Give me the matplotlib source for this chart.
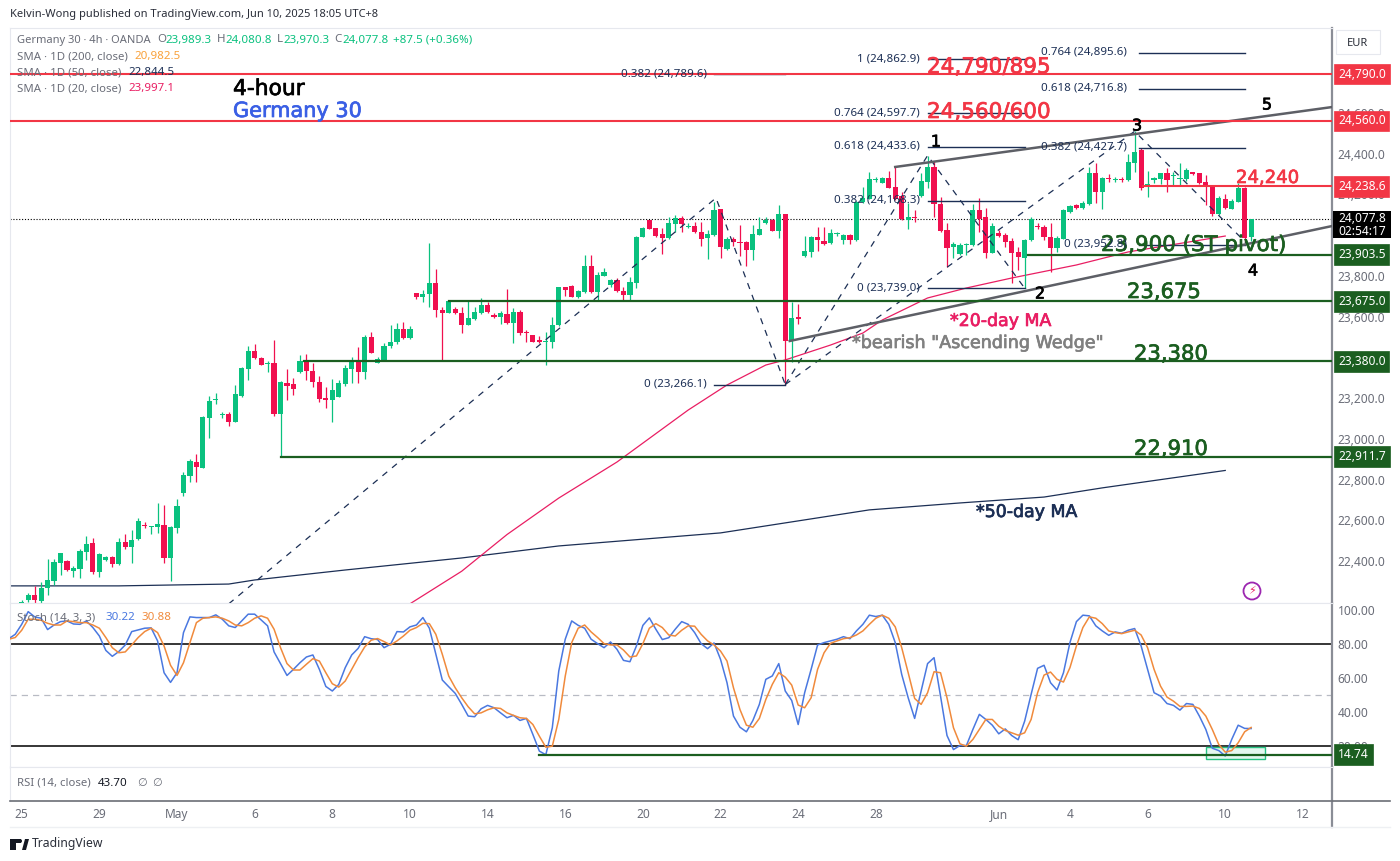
import matplotlib

matplotlib.use("Agg")
import matplotlib.patheffects as pe
import matplotlib.pyplot as plt
import numpy as np
from matplotlib.patches import Circle, Polygon, Rectangle
from matplotlib.transforms import IdentityTransform, blended_transform_factory

WIDTH = 1400
HEIGHT = 861

UP = "#0ac17f"
DOWN = "#f0104f"
RED_LINE = "#f23645"
DARK_GREEN = "#1b5e20"
NAVY = "#1c2f55"
PINK = "#e91e63"
GREY = "#6a6d78"
BLUE = "#4a78e0"
ORANGE = "#f08a3c"

open_prices = [
    22184, 22209, 22233, 22205, 22266, 22304, 22392, 22400, 22351, 22359,
    22446, 22487, 22348, 22405, 22420, 22385, 22495, 22471, 22506, 22577,
    22569, 22569, 22577, 22416, 22564, 22732, 22819, 22887, 22855, 23100,
    23189, 23115, 23120, 23084, 23212, 23342, 23429, 23396, 23368, 23370,
    23121, 23272, 23267, 23326, 23382, 23332, 23280, 23202, 23190, 23207,
    23267, 23341, 23378, 23326, 23499, 23373, 23386, 23455, 23475, 23537,
    23493, 23717, 23697, 23710, 23763, 23632, 23619, 23635, 23619, 23558,
    23588, 23615, 23655, 23609, 23597, 23612, 23566, 23624, 23524, 23507,
    23483, 23473, 23476, 23556, 23745, 23751, 23694, 23718, 23849, 23718,
    23800, 23753, 23779, 23727, 23705, 23766, 23992, 24072, 24032, 24003,
    23983, 24054, 24082, 24039, 24044, 24014, 23987, 24000, 24126, 23931,
    23982, 23967, 23965, 23926, 24001, 24060, 24073, 24021, 24101, 23485,
    23596, 23897, 23918, 23992, 23972, 23959, 24005, 23975, 24000, 23975,
    24160, 24176, 24271, 24257, 24281, 24234, 24191, 24073, 24086, 24191,
    24261, 24335, 24152, 24024, 23939, 23907, 23951, 23951, 24122, 24086,
    23913, 24011, 23998, 23972, 23915, 23885, 23975, 24044, 24041, 23992,
    23934, 23980, 24114, 24147, 24131, 24152, 24306, 24212, 24278, 24268,
    24276, 24270, 24355, 24417, 24237, 24270, 24273, 24306, 24289, 24273,
    24273, 24310, 24302, 24261, 24240, 24101, 24176, 24130, 24163, 24232, 23989.3,
]
high_prices = [
    22209, 22245, 22277, 22299, 22408, 22408, 22438, 22405, 22376, 22457,
    22523, 22515, 22438, 22425, 22425, 22511, 22533, 22552, 22609, 22593,
    22572, 22683, 22675, 22572, 22703, 22835, 22899, 22925, 23112, 23210,
    23223, 23133, 23133, 23262, 23351, 23455, 23465, 23400, 23381, 23485,
    23282, 23344, 23296, 23411, 23416, 23373, 23308, 23252, 23292, 23288,
    23362, 23400, 23452, 23509, 23524, 23400, 23471, 23557, 23570, 23575,
    23553, 23717, 23730, 23959, 23831, 23648, 23681, 23648, 23648, 23678,
    23648, 23692, 23673, 23615, 23628, 23733, 23640, 23632, 23534, 23507,
    23504, 23524, 23599, 23746, 23746, 23754, 23730, 23900, 23902, 23820,
    23836, 23782, 23787, 23746, 23792, 23995, 24041, 24073, 24036, 24032,
    24086, 24098, 24093, 24057, 24065, 24065, 24024, 24163, 24129, 23988,
    23992, 24049, 23969, 24047, 24090, 24086, 24077, 24147, 24103, 23671,
    23661, 23995, 23995, 24037, 24037, 24028, 24016, 24003, 24003, 24167,
    24234, 24307, 24286, 24286, 24315, 24332, 24212, 24158, 24122, 24306,
    24390, 24365, 24188, 24057, 23967, 23962, 23959, 24152, 24180, 24131,
    24057, 24024, 24008, 23987, 23942, 23979, 24086, 24057, 24049, 24057,
    23995, 24126, 24147, 24150, 24165, 24335, 24351, 24286, 24299, 24286,
    24286, 24400, 24509, 24425, 24315, 24286, 24306, 24327, 24310, 24351,
    24327, 24310, 24306, 24294, 24245, 24191, 24201, 24175, 24253, 24237, 24080.8,
]
low_prices = [
    22170, 22201, 22184, 22184, 22233, 22282, 22331, 22351, 22323, 22315,
    22405, 22336, 22320, 22402, 22372, 22380, 22457, 22392, 22503, 22560,
    22531, 22536, 22389, 22304, 22536, 22719, 22789, 22786, 22855, 23002,
    23171, 23103, 23064, 23084, 23207, 23288, 23391, 23360, 23329, 23113,
    22912, 23190, 23215, 23321, 23288, 23256, 23182, 23149, 23084, 23203,
    23259, 23272, 23275, 23292, 23419, 23370, 23386, 23444, 23465, 23488,
    23488, 23686, 23673, 23648, 23599, 23386, 23615, 23612, 23520, 23558,
    23583, 23612, 23619, 23591, 23563, 23563, 23468, 23509, 23476, 23475,
    23468, 23362, 23444, 23553, 23702, 23694, 23691, 23715, 23715, 23681,
    23799, 23746, 23718, 23681, 23681, 23738, 23988, 24028, 23992, 23907,
    23979, 24016, 24016, 24032, 24008, 23946, 23880, 23996, 23889, 23926,
    23946, 23897, 23848, 23877, 23998, 24054, 24018, 23983, 23266.1, 23375,
    23563, 23893, 23893, 23923, 23951, 23956, 23995, 23956, 23956, 23972,
    24158, 24175, 24261, 24253, 24229, 24171, 24073, 24028, 24065, 24188,
    24229, 24090, 24016, 23841, 23885, 23902, 23902, 23947, 24016, 23885,
    23910, 23992, 23939, 23763, 23828, 23738, 23972, 24028, 23975, 23820,
    23918, 23979, 24106, 24130, 24128, 24149, 24155, 24126, 24261, 24261,
    24258, 24266, 24310, 24220, 24185, 24253, 24250, 24212, 24245, 24245,
    24266, 24294, 24250, 24147, 24093, 24098, 24130, 24127, 24160, 23967, 23970.3,
]
close_prices = [
    22201, 22233, 22209, 22266, 22307, 22394, 22438, 22356, 22364, 22448,
    22484, 22345, 22434, 22420, 22384, 22495, 22467, 22503, 22596, 22572,
    22572, 22580, 22416, 22569, 22670, 22822, 22891, 22863, 23105, 23187,
    23194, 23120, 23084, 23220, 23347, 23432, 23396, 23364, 23373, 23121,
    23278, 23261, 23244, 23382, 23332, 23280, 23195, 23190, 23238, 23272,
    23349, 23378, 23326, 23501, 23423, 23393, 23457, 23475, 23537, 23493,
    23537, 23697, 23710, 23763, 23632, 23615, 23677, 23615, 23558, 23594,
    23622, 23655, 23624, 23596, 23615, 23566, 23620, 23517, 23517, 23476,
    23473, 23478, 23560, 23745, 23728, 23697, 23723, 23849, 23718, 23803,
    23820, 23779, 23723, 23705, 23769, 23992, 24034, 24031, 23995, 23983,
    24057, 24082, 24054, 24044, 24013, 23980, 24003, 24122, 23943, 23982,
    23967, 23962, 23926, 24005, 24029, 24075, 24021, 24101, 23481, 23592,
    23589, 23920, 23992, 23975, 23954, 24010, 24010, 24000, 23975, 24163,
    24180, 24275, 24276, 24281, 24232, 24175, 24077, 24086, 24082, 24266,
    24332, 24152, 24021, 23938, 23954, 23951, 23956, 24122, 24080, 23913,
    24046, 23995, 23967, 23913, 23890, 23974, 24080, 24039, 23988, 23938,
    23983, 24122, 24142, 24132, 24155, 24306, 24212, 24278, 24273, 24273,
    24270, 24360, 24409, 24229, 24250, 24278, 24302, 24270, 24294, 24278,
    24319, 24301, 24253, 24240, 24101, 24180, 24135, 24166, 24229, 23983, 24077.8,
]

# stochastic, first two values sit left of bar 0
stoch_k = [
    83.3, 85.9,
    91.8, 99.3, 96.2, 95.4, 88.7, 91.4, 93.4, 93.8, 92.0, 91.8,
    93.8, 89.9, 84.9, 76.4, 72.9, 75.7, 79.6, 87.5, 88.5, 89.5,
    89.7, 82.0, 63.2, 57.5, 63.2, 86.9, 96.2, 95.8, 95.8, 95.8,
    97.4, 94.8, 90.9, 89.9, 93.8, 97.8, 97.8, 94.4, 90.9, 75.5,
    68.6, 61.6, 65.2, 69.1, 72.5, 73.7, 65.2, 55.1, 52.4, 56.3,
    66.2, 73.7, 77.6, 84.5, 83.3, 82.8, 78.0, 80.0, 87.5, 87.3,
    90.3, 91.4, 95.8, 89.5, 74.1, 58.9, 54.9, 51.0, 44.5, 37.6,
    37.2, 41.9, 43.9, 42.5, 39.5, 36.6, 38.0, 35.0, 36.2, 26.7,
    16.9, 14.74, 30.7, 64.2, 83.0, 93.8, 91.2, 89.5, 83.0, 80.4,
    78.0, 81.4, 77.0, 70.5, 69.7, 79.0, 91.2, 95.6, 88.9, 82.8,
    83.9, 88.9, 93.4, 91.8, 86.9, 80.4, 77.4, 80.8, 71.1, 57.3,
    37.6, 31.0, 28.3, 35.0, 44.5, 59.3, 61.3, 68.6, 52.4, 46.8,
    32.6, 51.4, 65.2, 79.6, 81.0, 82.0, 83.0, 84.5, 83.3, 87.9,
    91.8, 97.2, 96.4, 97.2, 91.8, 81.0, 62.2, 48.4, 36.2, 52.4,
    68.6, 72.1, 49.4, 26.1, 17.8, 20.2, 20.2, 29.7, 38.6, 35.6,
    32.2, 27.1, 30.0, 26.1, 23.6, 34.6, 50.4, 65.8, 67.6, 57.3,
    53.0, 63.2, 81.0, 93.4, 97.2, 96.8, 90.9, 87.9, 85.3, 87.3,
    86.5, 88.3, 89.3, 79.0, 65.2, 51.4, 49.4, 45.0, 43.9, 41.1,
    45.0, 44.5, 37.6, 29.7, 18.6, 17.2, 14.0, 23.8, 32.2, 30.3, 30.22,
]
stoch_d = [
    83.0, 84.0,
    88.3, 94.8, 94.8, 94.2, 92.4, 91.4, 91.4, 93.8, 93.4, 92.8,
    92.8, 91.4, 89.5, 84.0, 78.0, 75.0, 75.5, 79.6, 84.0, 87.5,
    89.5, 86.9, 79.0, 67.6, 61.6, 69.1, 81.0, 92.8, 95.4, 95.8,
    96.2, 95.4, 93.8, 91.4, 90.9, 92.8, 95.4, 96.8, 95.4, 88.9,
    78.0, 68.6, 64.8, 64.8, 68.2, 71.5, 70.1, 63.2, 56.7, 54.7,
    58.3, 65.2, 72.1, 78.4, 82.4, 83.4, 81.6, 79.6, 82.0, 84.9,
    88.3, 89.9, 92.4, 92.2, 85.9, 74.1, 61.2, 54.3, 48.4, 43.1,
    38.9, 39.5, 41.3, 42.5, 42.1, 39.5, 38.0, 36.6, 36.2, 32.6,
    25.7, 19.2, 19.8, 35.6, 61.2, 81.0, 89.5, 91.4, 87.3, 84.0,
    80.4, 79.6, 79.6, 76.6, 72.5, 73.1, 80.4, 89.5, 92.2, 89.9,
    85.5, 84.9, 88.3, 90.9, 90.7, 85.9, 82.0, 79.6, 76.0, 70.1,
    54.3, 41.5, 32.2, 31.0, 36.2, 47.4, 56.3, 63.2, 60.6, 55.9,
    44.1, 42.5, 48.4, 65.2, 75.0, 80.6, 82.0, 83.3, 83.9, 85.5,
    87.9, 91.8, 95.4, 97.2, 95.4, 90.3, 78.0, 63.2, 48.0, 44.5,
    51.4, 63.8, 63.2, 48.4, 30.7, 21.2, 19.8, 23.8, 29.7, 35.6,
    35.6, 31.6, 29.1, 27.7, 26.3, 27.7, 35.6, 51.4, 61.8, 63.6,
    59.3, 57.7, 66.2, 79.0, 89.9, 96.2, 95.4, 92.2, 87.9, 86.9,
    86.3, 87.3, 88.3, 85.5, 78.0, 65.2, 55.3, 48.8, 46.4, 43.3,
    43.3, 43.5, 42.1, 37.6, 29.7, 20.8, 16.3, 17.2, 21.8, 28.3, 30.88,
]

# moving averages, read at their bends
ma20_bars = [60, 68, 75, 83, 92, 103, 109, 115, 118, 125, 130, 133, 140, 146, 153, 163, 171, 186]
ma20_values = [22190, 22350, 22530, 22709, 22886, 23141, 23264, 23362, 23387, 23460, 23519, 23583,
               23691, 23740, 23789, 23853, 23917, 23995]
ma50_bars = [-2, 15, 32, 36, 50, 68, 83, 108, 131, 145, 158, 167, 186]
ma50_values = [22278, 22278, 22287, 22307, 22356, 22415, 22474, 22538, 22651, 22685, 22714, 22759, 22844.5]

# dashed swings
swing1_bars = [32, 107.3, 118]
swing1_prices = [22190, 24182, 23266.1]
swing2_bars = [118, 140, 155]
swing2_prices = [23266.1, 24390, 23739.0]
swing3_bars = [118, 172, 189.5]
swing3_prices = [23266.1, 24509, 23952.8]

# fib levels
fib_a_bars = [107, 118]
fib_a_levels = [24789.6, 23266.1]
fib_a_labels = ["0.382 (24,789.6)", "0 (23,266.1)"]
fib_b_bars = [140, 155]
fib_b_levels = [24862.9, 24597.7, 24433.6, 24168.3, 23739.0]
fib_b_labels = ["1 (24,862.9)", "0.764 (24,597.7)", "0.618 (24,433.6)", "0.382 (24,168.3)", "0 (23,739.0)"]
fib_c_bars = [172.7, 189]
fib_c_levels = [24895.6, 24716.8, 24427.7, 23952.8]
fib_c_labels = ["0.764 (24,895.6)", "0.618 (24,716.8)", "0.382 (24,427.7)", "0 (23,952.8)"]

# wedge
wedge_top_bars = [135, 202.5]
wedge_top_prices = [24334, 24628]
wedge_low_bars = [118.7, 202.5]
wedge_low_prices = [23480, 24044]

# horizontal levels: price, first bar
red_levels = [24790.0, 24560.0, 24238.6]
red_starts = [-2, -2, 173.3]
green_levels = [23903.5, 23675.0, 23380.0, 22911.7]
green_starts = [155.5, 66, 43.6, 40]
last_price = 24077.8

price_ticks = [22400, 22600, 22800, 23000, 23200, 23400, 23600, 23800, 24200, 24400, 24600]
stoch_ticks = [20, 40, 60, 80, 100]
stoch_low = 14.74
date_ticks = [0, 12, 24, 36, 48, 60, 72, 84, 96, 108, 120, 132, 151, 162, 174, 186, 198]
date_labels = ["25", "29", "May", "6", "8", "10", "14", "16", "20", "22", "24", "28", "Jun", "4", "6", "10", "12"]


def axes_box(fig, left, top, right, bottom):
    return fig.add_axes([left / WIDTH, 1 - bottom / HEIGHT, (right - left) / WIDTH, (bottom - top) / HEIGHT])


def label(fig, x, y, text, **kwargs):
    kwargs.setdefault("va", "center")
    kwargs.setdefault("ha", "left")
    return fig.text(x / WIDTH, 1 - y / HEIGHT, text, **kwargs)


def heavy_label(fig, x, y, text, **kwargs):
    # the drawn notes in the reference are a touch heavier than DejaVu regular
    t = label(fig, x, y, text, family="DejaVu Sans", **kwargs)
    t.set_path_effects([pe.withStroke(linewidth=0.5, foreground=kwargs["color"])])


def price_tag(ax, value, text, color):
    trans = blended_transform_factory(ax.transAxes, ax.transData)
    x = 1 + 6 / ax.get_window_extent().width
    ax.text(x, value, text, transform=trans, color="white", fontsize=8.6, va="center", ha="left",
            fontweight="medium", clip_on=False, zorder=10,
            bbox=dict(boxstyle="square,pad=0.32", fc=color, ec=color, lw=0.5))


def style_panel(ax):
    for side in ["top", "left", "bottom"]:
        ax.spines[side].set_color("#e6e8ee")
    ax.spines["right"].set_color("#8a8d96")
    ax.spines["right"].set_linewidth(1.6)
    ax.set_xlim(-1.81, 202.5)
    ax.set_xticks([])
    ax.yaxis.tick_right()
    ax.tick_params(axis="y", length=0, labelsize=8.6, labelcolor=GREY, pad=4)


def draw_candles(ax):
    bars = np.arange(len(close_prices))
    opens = np.array(open_prices)
    closes = np.array(close_prices)
    colors = [UP if c >= o else DOWN for o, c in zip(opens, closes)]
    ax.vlines(bars, low_prices, high_prices, colors=colors, lw=0.9, zorder=2)
    heights = np.maximum(np.abs(closes - opens), 5)
    ax.bar(bars, heights, bottom=np.minimum(opens, closes), width=0.8, color=colors, lw=0, zorder=3)


def draw_main(fig):
    ax = axes_box(fig, 10, 28, 1332, 603)
    style_panel(ax)
    ax.set_ylim(22194, 25016)
    ax.set_yticks(price_ticks)
    ax.set_yticklabels([f"{t:,.1f}" for t in price_ticks])

    ax.plot(ma50_bars, ma50_values, color=NAVY, lw=0.9, zorder=1.5)
    ax.plot(ma20_bars, ma20_values, color=PINK, lw=0.9, zorder=1.5)
    draw_candles(ax)
    ax.axhline(last_price, color="black", lw=0.8, ls=(0, (1, 1.6)), zorder=1)

    for bars, prices in [(swing1_bars, swing1_prices), (swing2_bars, swing2_prices), (swing3_bars, swing3_prices)]:
        ax.plot(bars, prices, color=NAVY, lw=0.9, ls=(0, (5, 5)), zorder=4)
    for bars, levels in [(fib_a_bars, fib_a_levels), (fib_b_bars, fib_b_levels), (fib_c_bars, fib_c_levels)]:
        for level in levels:
            ax.plot(bars, [level, level], color=NAVY, lw=1.0, zorder=4)

    ax.plot(wedge_top_bars, wedge_top_prices, color="#5d5f66", lw=1.8, zorder=5)
    ax.plot(wedge_low_bars, wedge_low_prices, color="#5d5f66", lw=1.8, zorder=5)

    for level, start in zip(red_levels, red_starts):
        ax.plot([start, 202.5], [level, level], color=RED_LINE, lw=1.5, zorder=5)
    for level, start in zip(green_levels, green_starts):
        ax.plot([start, 202.5], [level, level], color=DARK_GREEN, lw=1.6, zorder=5)

    for level, text in zip(red_levels, ["24,790.0", "24,560.0", "24,238.6"]):
        price_tag(ax, level, text, RED_LINE)
    for level, text in zip(green_levels, ["23,903.5", "23,675.0", "23,380.0", "22,911.7"]):
        price_tag(ax, level, text, DARK_GREEN)
    return ax


def draw_stoch(fig):
    ax = axes_box(fig, 10, 603, 1332, 767)
    style_panel(ax)
    ax.set_ylim(7.5, 104.4)
    ax.set_yticks(stoch_ticks)
    ax.set_yticklabels([f"{t:.2f}" for t in stoch_ticks])

    bars = np.arange(-2, len(stoch_k) - 2)
    ax.axhline(80, color="black", lw=1.1, zorder=1)
    ax.axhline(20, color="black", lw=1.1, zorder=1)
    ax.axhline(50, color="#b8bbc4", lw=0.9, ls=(0, (5, 4)), zorder=1)
    ax.add_patch(Rectangle((183, 12.4), 9.1, 7.1, fc="#26c281", alpha=0.12, lw=0, zorder=1))
    ax.add_patch(Rectangle((183, 12.4), 9.1, 7.1, fc="none", ec="#26c281", lw=1.0, zorder=2))
    ax.plot(bars, stoch_k, color=BLUE, lw=1.1, zorder=3)
    ax.plot(bars, stoch_d, color=ORANGE, lw=1.1, zorder=3)
    ax.plot([80, 202.5], [stoch_low, stoch_low], color=DARK_GREEN, lw=1.6, zorder=4)
    price_tag(ax, stoch_low, "14.74", DARK_GREEN)
    return ax


def draw_rsi(fig):
    ax = axes_box(fig, 10, 767, 1332, 801)
    style_panel(ax)
    ax.set_yticks([])
    ax.spines["bottom"].set_color("#6b6e76")
    ax.spines["bottom"].set_linewidth(1.2)
    ax.set_xticks(date_ticks)
    ax.set_xticklabels(date_labels)
    ax.tick_params(axis="x", length=0, labelsize=8.6, labelcolor=GREY, pad=5)
    return ax


def draw_header(fig):
    label(fig, 10, 14, "Kelvin-Wong published on TradingView.com, Jun 10, 2025 18:05 UTC+8", fontsize=8, color="#2a2e39")
    label(fig, 17, 40, "Germany 30 · 4h · OANDA", fontsize=8, color=GREY)
    for x, text, color in [(157, "O", GREY), (165, "23,989.3", UP), (217, "H", GREY), (225, "24,080.8", UP),
                           (277, "L", GREY), (283, "23,970.3", UP), (334, "C", GREY), (342, "24,077.8", UP),
                           (393, "+87.5 (+0.36%)", UP)]:
        label(fig, x, 40, text, fontsize=8.3, color=color)
    sma_rows = [(57, "SMA · 1D (200, close)", 134, "20,982.5", "#f9a13a"),
                (73, "SMA · 1D (50, close)", 128, "22,844.5", NAVY),
                (89, "SMA · 1D (20, close)", 128, "23,997.1", PINK)]
    for y, name, x, value, color in sma_rows:
        label(fig, 17, y, name, fontsize=8.2, color=GREY)
        label(fig, x, y, value, fontsize=8.3, color=color)
    label(fig, 17, 618, "Stoch (14, 3, 3)", fontsize=8.2, color=GREY)
    label(fig, 105, 618, "30.22", fontsize=8.3, color=BLUE)
    label(fig, 141, 618, "30.88", fontsize=8.3, color=ORANGE)
    label(fig, 17, 783, "RSI (14, close)", fontsize=8.2, color=GREY)
    label(fig, 98, 783, "43.70", fontsize=8.3, color="#131722")
    label(fig, 137, 783, "∅", fontsize=8, color=GREY)
    label(fig, 152, 783, "∅", fontsize=8, color=GREY)


def draw_notes(fig):
    heavy_label(fig, 233, 89, "4-hour", fontsize=15.7, color="black")
    heavy_label(fig, 233, 111, "Germany 30", fontsize=15, color="#3a5fe5")
    for x, y, text, color, size in [
        (927, 67, "24,790/895", RED_LINE, 15.5),
        (927, 112, "24,560/600", RED_LINE, 15.5),
        (1236, 178, "24,240", RED_LINE, 13),
        (1101, 245, "23,900 (ST pivot)", DARK_GREEN, 15.4),
        (1127, 292, "23,675", DARK_GREEN, 15.2),
        (1134, 354, "23,380", DARK_GREEN, 15.2),
        (1134, 449, "22,910", DARK_GREEN, 15.2),
        (950, 321, "*20-day MA", PINK, 12.5),
        (852, 343, '*bearish "Ascending Wedge"', "#808080", 12.6),
        (976, 512, "*50-day MA", NAVY, 12.5),
    ]:
        heavy_label(fig, x, y, text, fontsize=size, color=color)
    for x, y, text in [(936, 142, "1"), (1040, 294, "2"), (1137, 126, "3"), (1253, 271, "4"), (1267, 105, "5")]:
        heavy_label(fig, x, y, text, fontsize=11.5, color="black", ha="center")

    for labels, levels, right in [(fib_a_labels, fib_a_levels, 707), (fib_b_labels, fib_b_levels, 920),
                                  (fib_c_labels, fib_c_levels, 1127)]:
        for text, level in zip(labels, levels):
            y = 153.5 + (24400 - level) * 0.2038
            label(fig, right, y - 0.5, text, fontsize=8.3, color=NAVY, ha="right")

    # clock under the last price
    to_px = IdentityTransform()
    fig.add_artist(Rectangle((1333, HEIGHT - 238), 58, 27, fc="black", ec="none", transform=to_px, zorder=10))
    label(fig, 1338, 218.5, "24,077.8", fontsize=8.6, color="white", zorder=11)
    label(fig, 1338, 231.5, "02:54:17", fontsize=8.6, color="white", zorder=11)

    fig.add_artist(Rectangle((1336, HEIGHT - 54), 44, 24, fc="white", ec="#e6e8ee", lw=0.8, transform=to_px))
    label(fig, 1358, 43, "EUR", fontsize=8, color="#2a2e39", ha="center")

    fig.add_artist(Circle((1252, HEIGHT - 591), 8.5, fc="white", ec="#9c27b0", lw=1.3, transform=to_px))
    label(fig, 1252, 591, "⚡", fontsize=8, color="#e91e63", ha="center", family="DejaVu Sans")

    # TradingView logo
    fig.add_artist(Rectangle((10, HEIGHT - 850), 6, 11, fc="#131722", ec="none", transform=to_px))
    fig.add_artist(Rectangle((10, HEIGHT - 843), 11, 4, fc="#131722", ec="none", transform=to_px))
    fig.add_artist(Circle((20, HEIGHT - 841), 2, fc="#131722", ec="none", transform=to_px))
    fig.add_artist(Polygon([(22, HEIGHT - 850), (26, HEIGHT - 850), (29, HEIGHT - 839), (25, HEIGHT - 839)],
                           fc="#131722", ec="none", transform=to_px))
    label(fig, 32, 844, "TradingView", fontsize=8.8, color="#2a2e39")


def main() -> None:
    plt.rcParams["font.family"] = ["Noto Sans", "DejaVu Sans"]
    fig = plt.figure(figsize=(WIDTH / 100, HEIGHT / 100), dpi=100)
    fig.patch.set_facecolor("white")

    draw_main(fig)
    draw_stoch(fig)
    draw_rsi(fig)

    # outer frame of the date strip
    fig.add_artist(plt.Line2D([1332 / WIDTH, 1332 / WIDTH], [1 - 827 / HEIGHT, 1 - 801 / HEIGHT], color="#8a8d96", lw=1.6))
    fig.add_artist(plt.Line2D([1332 / WIDTH, 1390 / WIDTH], [1 - 801 / HEIGHT, 1 - 801 / HEIGHT], color="#6b6e76", lw=1.2))
    fig.add_artist(plt.Line2D([10 / WIDTH, 1390 / WIDTH], [1 - 827 / HEIGHT, 1 - 827 / HEIGHT], color="#eef0f3", lw=1.0))

    draw_header(fig)
    draw_notes(fig)
    fig.savefig("out.png", dpi=100)


if __name__ == "__main__":
    main()
